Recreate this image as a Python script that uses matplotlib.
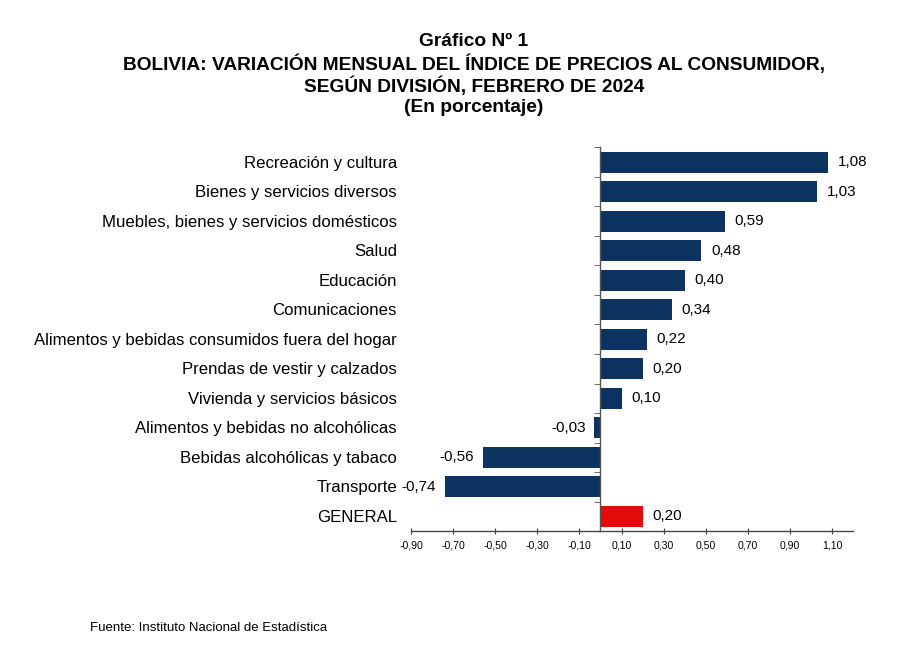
import matplotlib
matplotlib.use("Agg")
import matplotlib.pyplot as plt
from matplotlib import font_manager as fm
import numpy as np

categories = [
    "Recreación y cultura",
    "Bienes y servicios diversos",
    "Muebles, bienes y servicios domésticos",
    "Salud",
    "Educación",
    "Comunicaciones",
    "Alimentos y bebidas consumidos fuera del hogar",
    "Prendas de vestir y calzados",
    "Vivienda y servicios básicos",
    "Alimentos y bebidas no alcohólicas",
    "Bebidas alcohólicas y tabaco",
    "Transporte",
    "GENERAL",
]
values = [1.08, 1.03, 0.59, 0.48, 0.40, 0.34, 0.22, 0.20, 0.10, -0.03, -0.56, -0.74, 0.20]
xticks = [-0.90, -0.70, -0.50, -0.30, -0.10, 0.10, 0.30, 0.50, 0.70, 0.90, 1.10]

navy = "#0d3461"
red = "#e10b0b"
colors = [red if c == "GENERAL" else navy for c in categories]

names = {f.name for f in fm.fontManager.ttflist}
base = "Liberation Sans" if "Liberation Sans" in names else "DejaVu Sans"
plt.rcParams["font.family"] = [base, "DejaVu Sans"]

fig = plt.figure(figsize=(9, 6.56), dpi=100)
ax = fig.add_axes([0.4567, 0.1905, 0.4911, 0.5847])

y = np.arange(len(categories))
ax.barh(y, values, height=0.72, color=colors, zorder=2)

ax.set_xlim(-0.9, 1.2)
ax.set_ylim(len(categories) - 0.5, -0.5)

for s in ["top", "right"]:
    ax.spines[s].set_visible(False)
ax.spines["left"].set_position(("data", 0))
ax.spines["left"].set_color("#555555")
ax.spines["left"].set_linewidth(1.0)
ax.spines["bottom"].set_color("#444444")
ax.spines["bottom"].set_linewidth(1.0)

ax.set_yticks(y)
ax.set_yticklabels([])
ax.tick_params(axis="y", which="major", length=0)
ax.set_yticks(np.arange(len(categories) + 1) - 0.5, minor=True)
ax.tick_params(axis="y", which="minor", length=4, direction="out", color="#555555")

ax.set_xticks(xticks)
ax.set_xticklabels([f"{t:.2f}".replace(".", ",") for t in xticks], fontsize=7.6)
ax.tick_params(axis="x", direction="inout", length=5, color="#444444", pad=4)

for yi, c in zip(y, categories):
    ax.text(-0.032, yi + 0.03, c, transform=ax.get_yaxis_transform(), ha="right",
            va="center", fontsize=12.1)

for yi, v in zip(y, values):
    lab = f"{v:.2f}".replace(".", ",")
    if v >= 0:
        ax.annotate(lab, (v, yi), xytext=(7, 0), textcoords="offset points",
                    ha="left", va="center", fontsize=11)
    else:
        ax.annotate(lab, (v, yi), xytext=(-6, 0), textcoords="offset points",
                    ha="right", va="center", fontsize=11)

title_lines = [
    "Gráfico Nº 1",
    "BOLIVIA: VARIACIÓN MENSUAL DEL ÍNDICE DE PRECIOS AL CONSUMIDOR,",
    "SEGÚN DIVISIÓN, FEBRERO DE 2024",
    "(En porcentaje)",
]
ys = [42, 64, 86, 107]
for t, yy in zip(title_lines, ys):
    fig.text(474 / 900, 1 - yy / 656, t, ha="center", va="center",
             fontsize=13.8, fontweight="bold")

fig.text(90 / 900, 1 - 628 / 656, "Fuente: Instituto Nacional de Estadística",
         ha="left", va="center", fontsize=9.5)

fig.savefig("out.png", dpi=100)
